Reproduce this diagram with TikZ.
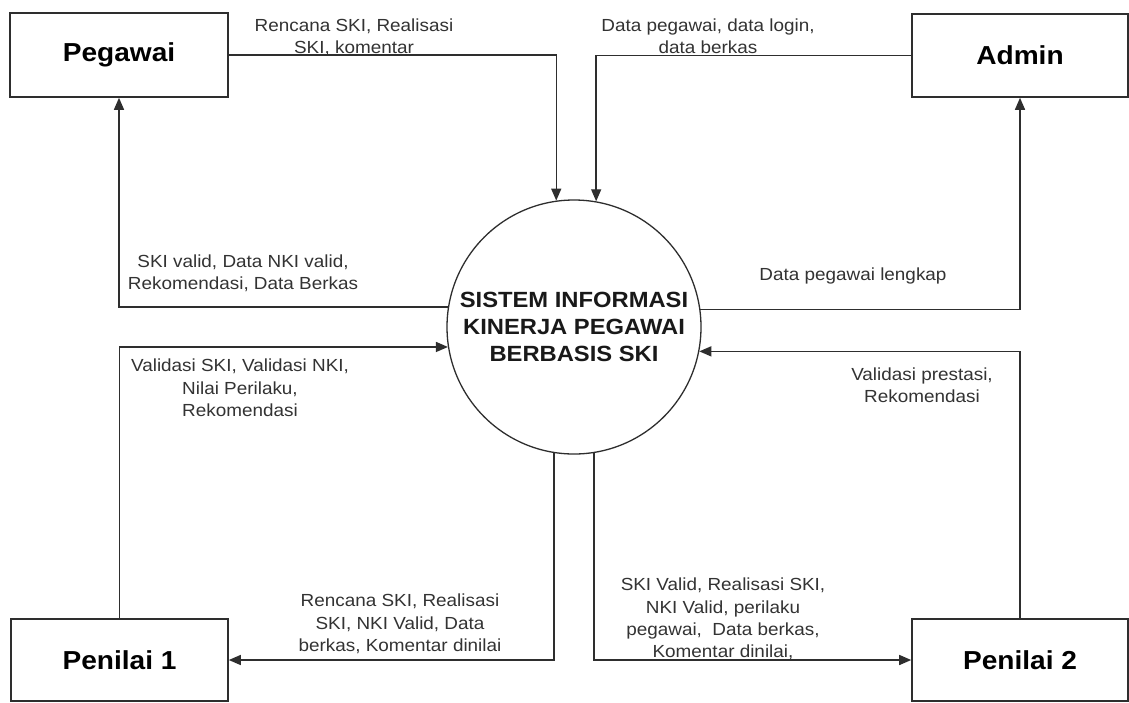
\documentclass[tikz,border=0pt]{standalone}
\usepackage{fontspec}
\setmainfont[FakeStretch=1.08]{Liberation Sans}
\usetikzlibrary{arrows.meta}
\definecolor{linec}{HTML}{2E2E2E}
\definecolor{labc}{HTML}{333333}
\tikzset{
  entity/.style={draw=linec, line width=1.6pt, fill=white, inner sep=0pt,
    font=\fontsize{26}{30}\selectfont\bfseries, text=black},
  proc/.style={circle, draw=linec, line width=1.3pt, fill=white, minimum size=254pt, inner sep=0pt,
    align=center, font=\fontsize{22}{27}\selectfont\bfseries, text=black!90},
  flow/.style={draw=linec, line width=1.4pt, -{Triangle[length=12pt,width=10pt]}},
  lab/.style={align=center, inner sep=0pt, text=labc, font=\fontsize{17.5}{22.3}\selectfont},
}
\begin{document}
\begin{tikzpicture}[x=1pt,y=-1pt]
\useasboundingbox[fill=white] (0,0) rectangle (1129,702);

\node[entity, minimum width=218pt, minimum height=84pt] (peg) at (119,55) {Pegawai};
\node[entity, minimum width=216pt, minimum height=83pt] (adm) at (1020,55.5) {Admin};
\node[entity, minimum width=217pt, minimum height=82pt] (pn1) at (119.5,660) {Penilai 1};
\node[entity, minimum width=216pt, minimum height=82pt] (pn2) at (1020,660) {Penilai 2};

\node[proc] (sys) at (574,327) {SISTEM INFORMASI\\KINERJA PEGAWAI\\BERBASIS SKI};

% connectors
\draw[flow] (peg.east) -| (sys.98.6);
\draw[flow] (adm.west) -| (sys.80.9);
\draw[flow] (sys.171.4) -| (peg.south);
\draw[flow] (pn1.north) |- (sys.189.1);
\draw[flow] (sys.8.6) -| (adm.south);
\draw[flow] (pn2.north) |- (sys.349.6);
\draw[flow] (sys.261.4) |- (pn1.east);
\draw[flow] (sys.279.1) |- (pn2.west);

% labels
\node[lab] (l1) at (354,37) {Rencana SKI, Realisasi\\SKI, komentar};
\node[lab] (l2) at (708,36) {Data pegawai, data login,\\data berkas};
\node[lab] (l3) at (243,273.5) {SKI valid, Data NKI valid,\\Rekomendasi, Data Berkas};
\node[lab] (l4) at (240,388) {Validasi SKI, Validasi NKI,\\Nilai Perilaku,\\Rekomendasi};
\node[lab] (l5) at (853,276) {Data pegawai lengkap};
\node[lab] (l6) at (922,385) {Validasi prestasi,\\Rekomendasi};
\node[lab] (l7) at (400,624) {Rencana SKI, Realisasi\\SKI, NKI Valid, Data\\berkas, Komentar dinilai};
\node[lab] (l8) at (723,619) {SKI Valid, Realisasi SKI,\\NKI Valid, perilaku\\pegawai,\ \ Data berkas,\\Komentar dinilai,};
\end{tikzpicture}
\end{document}
